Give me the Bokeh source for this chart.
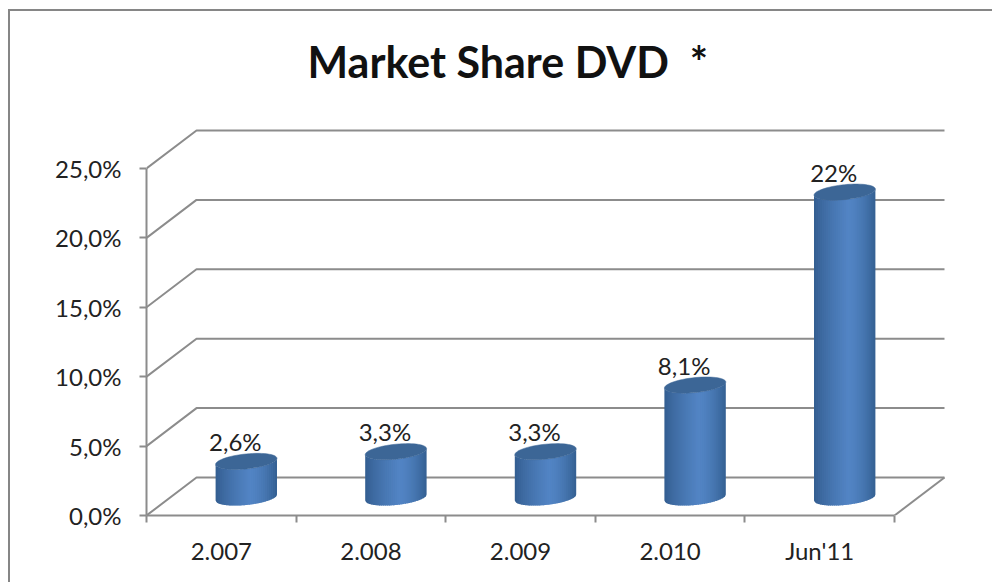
import math
from bokeh.embed import file_html
from bokeh.resources import INLINE
from bokeh.plotting import figure
from bokeh.models import (ColumnDataSource, Range1d, LinearAxis, FixedTicker, Title, InlineStyleSheet)
from bokeh.core.properties import value

# ---- data ----
categories = ["2.007", "2.008", "2.009", "2.010", "Jun'11"]
shares = [2.6, 3.3, 3.3, 8.1, 22.0]
share_labels = ["2,6%", "3,3%", "3,3%", "8,1%", "22%"]
y_ticks = [0, 5, 10, 15, 20, 25]
y_tick_labels = ["0,0%", "5,0%", "10,0%", "15,0%", "20,0%", "25,0%"]
title_text = "Market Share DVD \u00a0*"

FONT = "Lato"
GRID = "#8c8c8c"
TEXT = "#222222"

# 3-D geometry expressed in data units
PX_X = 149.6   # pixels per category
PX_Y = 13.88   # pixels per percent
DEPTH_X = 50 / PX_X
DEPTH_Y = 38 / PX_Y
RX = 30.7 / PX_X
RY = 7.5 / PX_Y
SHEAR = 3.0 / PX_Y
BASE = 18 / PX_Y
N_STRIPS = 31

p = figure(width=992, height=582, output_backend="svg", toolbar_location=None,
           x_range=Range1d(0, 814 / PX_X), y_range=Range1d(0, 395 / PX_Y),
           x_axis_type=None, y_axis_type=None,
           min_border_left=146, min_border_right=32, min_border_top=120, min_border_bottom=67,
           outline_line_color=None)
p.grid.visible = False

# outer chart border (runs off the picture at the right and the bottom)
p.stylesheets = [InlineStyleSheet(css=(
    ":host::after {content: ''; position: absolute; left: 8px; top: 9px; right: 0; bottom: 0;"
    " border-left: 2px solid #868686; border-top: 2px solid #868686; pointer-events: none;}"
))]

# title
p.add_layout(Title(text=title_text, align="left", offset=161, text_font=FONT,
                   text_font_style="bold", text_font_size="43px", text_color="#111111",
                   standoff=67), "above")

# wall and floor lines
n = len(categories)
gx, gy = [], []
for t in y_ticks:
    gx.append([0, DEPTH_X, n + DEPTH_X])
    gy.append([t, t + DEPTH_Y, t + DEPTH_Y])
gx.append([n, n + DEPTH_X])
gy.append([0, DEPTH_Y])
p.multi_line(gx, gy, line_color=GRID, line_width=2)

# axes
yax = LinearAxis(ticker=FixedTicker(ticks=y_ticks), bounds=(y_ticks[0], y_ticks[-1]),
                 major_label_overrides=dict(zip(y_ticks, y_tick_labels)),
                 axis_line_color=GRID, axis_line_width=2,
                 major_tick_line_color=GRID, major_tick_line_width=2,
                 major_tick_in=0, major_tick_out=7, minor_tick_line_color=None,
                 major_label_standoff=18, major_label_text_font=FONT,
                 major_label_text_font_size="24px", major_label_text_color=TEXT)
p.add_layout(yax, "left")

edges = list(range(n + 1))
xax = LinearAxis(ticker=FixedTicker(ticks=edges), bounds=(0, n),
                 major_label_text_font_size="0px",
                 axis_line_color=GRID, axis_line_width=2,
                 major_tick_line_color=GRID, major_tick_line_width=2,
                 major_tick_in=0, major_tick_out=7, minor_tick_line_color=None,
                 major_label_standoff=0)
xax.major_label_overrides = {e: "" for e in edges}
p.add_layout(xax, "below")

centers = [i + 0.5 for i in range(n)]
xlab = LinearAxis(ticker=FixedTicker(ticks=centers),
                  major_label_overrides=dict(zip(centers, categories)),
                  axis_line_color=None, major_tick_line_color=None, minor_tick_line_color=None,
                  major_tick_in=0, major_tick_out=0, major_label_standoff=13,
                  major_label_text_font=FONT, major_label_text_font_size="24px",
                  major_label_text_color=TEXT)
p.add_layout(xlab, "below")


def mix(a, b, f):
    return tuple(round(a[k] + (b[k] - a[k]) * f) for k in range(3))


EDGE_L = (50, 92, 142)
EDGE_R = (52, 96, 146)
MID = (82, 132, 196)


def shade(t):
    if t < 0.1:
        f = (t + 1) / 1.1
        c = mix(EDGE_L, MID, f ** 0.75)
    else:
        f = (t - 0.1) / 0.9
        c = mix(MID, EDGE_R, f ** 1.6)
    return "#%02x%02x%02x" % c


# cylinders: overlapping vertical strips give the horizontal shading
sx, sy, sc = [], [], []
tx, ty = [], []
for i, v in enumerate(shares):
    xc = centers[i] + DEPTH_X / 2
    y0 = BASE
    y1 = BASE + v
    for k in range(N_STRIPS):
        t0 = -1 + 2 * k / N_STRIPS
        t1 = min(1.0, -1 + 2 * (k + 1.6) / N_STRIPS)
        ts = [t0 + (t1 - t0) * j / 4 for j in range(5)]
        xs = [xc + RX * t for t in ts]
        top = [y1 + SHEAR * t - RY * math.sqrt(max(0, 1 - t * t)) for t in ts]
        bot = [y0 + SHEAR * t - RY * math.sqrt(max(0, 1 - t * t)) for t in ts]
        sx.append(xs + xs[::-1])
        sy.append(top + bot[::-1])
        sc.append(shade(-1 + 2 * (k + 0.5) / N_STRIPS))
    angs = [2 * math.pi * a / 60 for a in range(60)]
    tx.append([xc + RX * math.cos(a) for a in angs])
    ty.append([y1 + SHEAR * math.cos(a) + RY * math.sin(a) for a in angs])

p.patches(sx, sy, fill_color=sc, line_color=None)
p.patches(tx, ty, fill_color="#3c6696", line_color="#3c6696", line_width=0.5)

# value labels
src = ColumnDataSource(dict(x=[c + DEPTH_X / 2 for c in centers],
                            y=[BASE + v for v in shares], t=share_labels))
p.text("x", "y", text="t", source=src, x_offset=-11, y_offset=-20,
       text_align="center", text_baseline="middle",
       text_font=value(FONT), text_font_size="24px", text_color=TEXT)

open("out.html", "w").write(file_html(p, INLINE))
